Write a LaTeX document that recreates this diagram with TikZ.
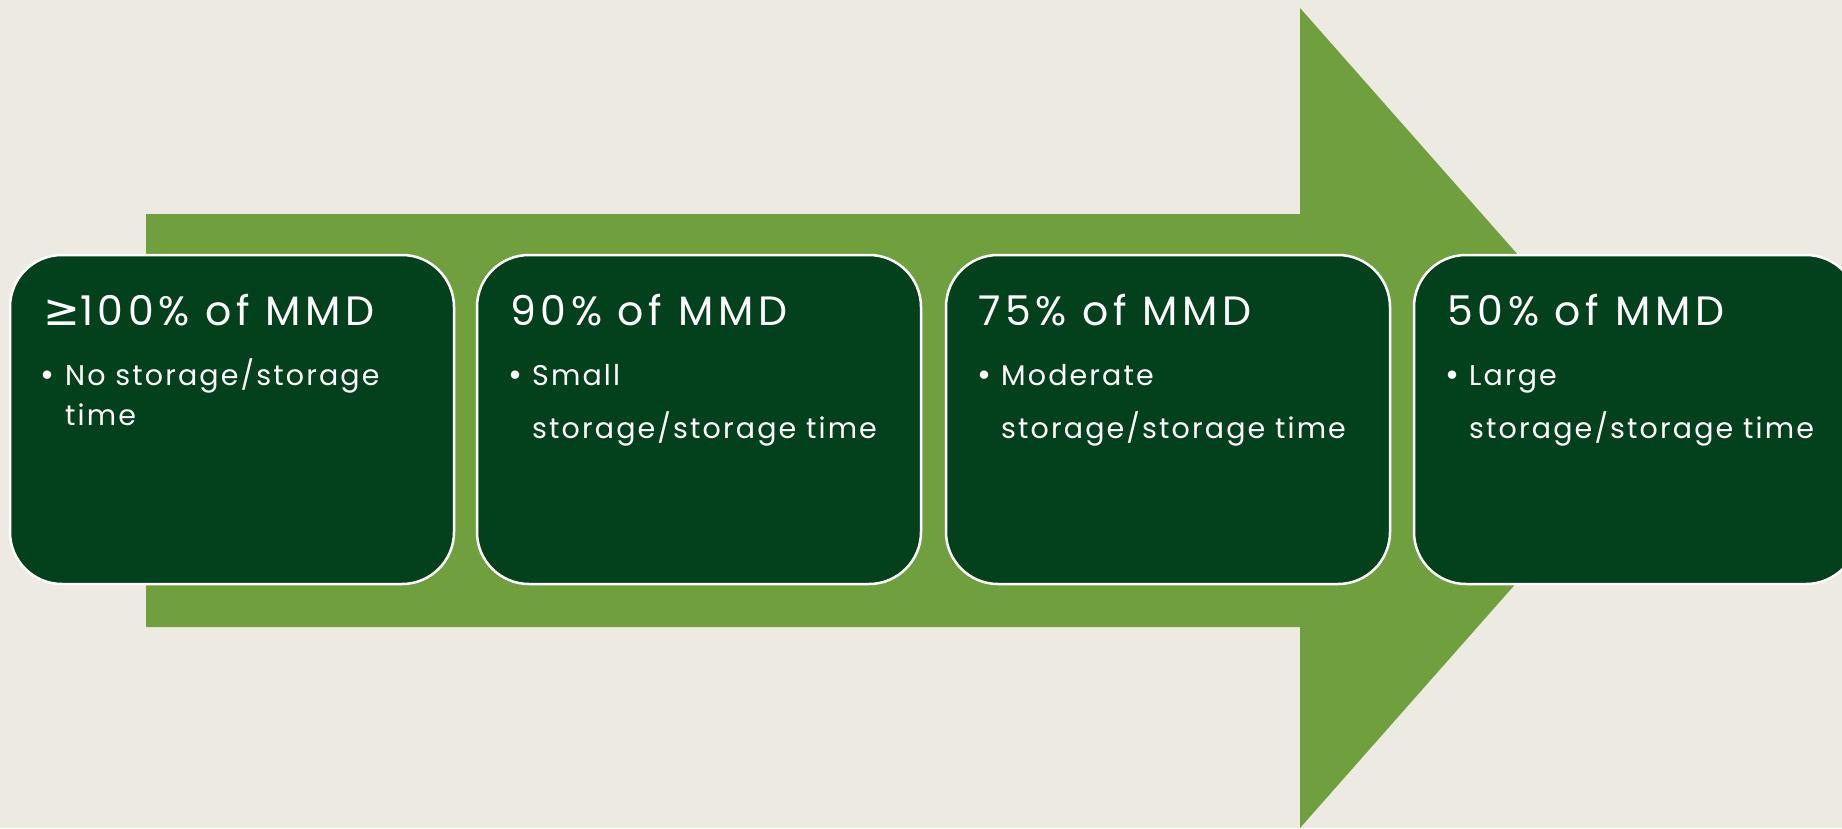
\documentclass[tikz,border=0pt]{standalone}
\usepackage{fontspec}
\setmainfont{Poppins}
\newfontfamily\ttlfont[LetterSpace=11.5]{Poppins}
\newfontfamily\bodfont[LetterSpace=7.5]{Poppins}
\newfontfamily\symfont{DejaVu Sans}
\definecolor{bgc}{RGB}{237,234,226}
\definecolor{arrowc}{RGB}{112,159,62}
\definecolor{boxc}{RGB}{3,65,29}
\begin{document}
\begin{tikzpicture}[x=1pt,y=-1pt,
  box/.style={draw=white,line width=2.5pt,fill=boxc,rounded corners=52pt,minimum width=444pt,minimum height=329pt,inner sep=0pt},
  ttl/.style={anchor=base west,inner sep=0pt,text=white,font=\ttlfont\fontsize{41}{42}\selectfont},
  bod/.style={anchor=base west,inner sep=0pt,text=white,font=\bodfont\fontsize{28.5}{30}\selectfont},
  bul/.style={anchor=base,inner sep=0pt,text=white,font=\fontsize{34}{30}\selectfont}]
\useasboundingbox (0,0) rectangle (1842,828);
\clip (0,0) rectangle (1842,828);
\fill[bgc] (0,0) rectangle (1842,828);
\fill[arrowc] (146,214) -- (1300,214) -- (1300,8) -- (1662,418) -- (1300,828) -- (1300,627) -- (146,627) -- cycle;
% boxes
\node[box] (b1) at (232,419.5) {};
\node[box] (b2) at (699,419.5) {};
\node[box] (b3) at (1168,419.5) {};
\node[box] (b4) at (1636,419.5) {};
% box 1
\node[ttl] (t1) at (43,325) {{\symfont\fontsize{44}{44}\selectfont ≥}100\% of MMD};
\node[bul] (u1) at (48,386) {•};
\node[bod] (l1a) at (65,385) {No storage/storage};
\node[bod] (l1b) at (65,425) {time};
% box 2
\node[ttl] (t2) at (510,325) {90\% of MMD};
\node[bul] (u2) at (515,386) {•};
\node[bod] (l2a) at (532,385) {Small};
\node[bod] (l2b) at (532,438) {storage/storage time};
% box 3
\node[ttl] (t3) at (978,325) {75\% of MMD};
\node[bul] (u3) at (984,386) {•};
\node[bod] (l3a) at (1001,385) {Moderate};
\node[bod] (l3b) at (1001,438) {storage/storage time};
% box 4
\node[ttl] (t4) at (1447,325) {50\% of MMD};
\node[bul] (u4) at (1452,386) {•};
\node[bod] (l4a) at (1469,385) {Large};
\node[bod] (l4b) at (1469,438) {storage/storage time};
\end{tikzpicture}
\end{document}
